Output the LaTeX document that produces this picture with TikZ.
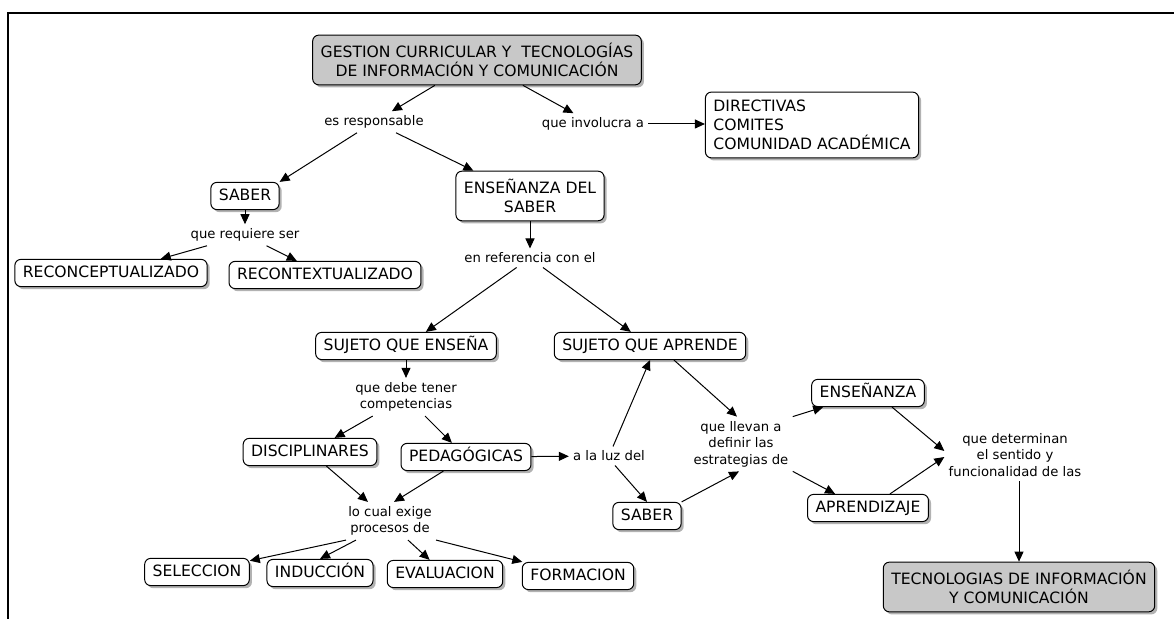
\documentclass[tikz,border=0pt]{standalone}
\usepackage{fontspec}
\setmainfont{DejaVu Sans}
\usetikzlibrary{arrows.meta}
\usetikzlibrary{shadows}
\usetikzlibrary{positioning}
\definecolor{mapgray}{RGB}{200,200,200}

\begin{document}
\begin{tikzpicture}[x=0.5pt,y=-0.5pt,
  box/.style={draw=black,line width=0.5pt,rounded corners=3pt,fill=white,
    drop shadow={shadow xshift=1.3pt,shadow yshift=-1.3pt,opacity=0.3,fill=black},
    inner xsep=4pt,font=\fontsize{7.8pt}{9.5pt}\selectfont},
  concept/.style={box,inner ysep=3pt,text height=6.2pt,text depth=1.4pt},
  multi/.style={box,inner ysep=4pt,align=center},
  link/.style={font=\fontsize{6.6pt}{8.3pt}\selectfont,align=center,inner sep=2pt},
  arr/.style={line width=0.5pt,-{Triangle[length=5pt,width=4.5pt]}}]
\useasboundingbox (0,0) rectangle (1174,619);
\draw[line width=1.2pt] (8,619) -- (8,13) -- (1174,13);

\node[multi,fill=mapgray] (gestion) at (477,60) {GESTION CURRICULAR Y \ TECNOLOGÍAS\\DE INFORMACIÓN Y COMUNICACIÓN};
\node[multi,align=left] (directivas) at (812,125) {DIRECTIVAS\\COMITES\\COMUNIDAD ACADÉMICA};
\node[concept] (saberA) at (245,196) {SABER};
\node[multi] (ensSaber) at (530,196) {ENSEÑANZA DEL\\SABER};
\node[concept] (reconc) at (111,273) {RECONCEPTUALIZADO};
\node[concept] (recont) at (325,275) {RECONTEXTUALIZADO};
\node[concept] (sujEns) at (406,346) {SUJETO QUE ENSEÑA};
\node[concept] (sujApr) at (650,346) {SUJETO QUE APRENDE};
\node[concept] (discip) at (310,452) {DISCIPLINARES};
\node[concept] (pedag) at (466,457) {PEDAGÓGICAS};
\node[concept] (saberB) at (647,516) {SABER};
\node[concept] (ensenanza) at (868,393) {ENSEÑANZA};
\node[concept] (aprendizaje) at (868,508) {APRENDIZAJE};
\node[multi,fill=mapgray] (tecnol) at (1019,587) {TECNOLOGIAS DE INFORMACIÓN\\Y COMUNICACIÓN};
\node[concept] (seleccion) at (197,572) {SELECCION};
\node[concept] (induccion) at (320,573) {INDUCCIÓN};
\node[concept] (evaluacion) at (445,574) {EVALUACION};
\node[concept] (formacion) at (578,576) {FORMACION};

\node[link] (lResp) at (374,122) {es responsable};
\node[link] (lInv) at (593,124) {que involucra a};
\node[link] (lReq) at (245,235) {que requiere ser};
\node[link] (lRef) at (530,258) {en referencia con el};
\node[link] (lDeb) at (406,397) {que debe tener\\competencias};
\node[link] (lLuz) at (609,456) {a la luz del};
\node[link] (lLlev) at (741,444) {que llevan a\\definir las\\estrategias de};
\node[link] (lDet) at (1015,455) {que determinan\\el sentido y\\funcionalidad de las};
\node[link] (lCual) at (390,521) {lo cual exige\\procesos de};

\draw[arr] (gestion) -- (lResp);
\draw[arr] (gestion) -- (lInv);
\draw[arr] (lInv.east) -- (lInv.east -| directivas.west);
\draw[arr] (lResp) -- (saberA.north east);
\draw[arr] (lResp) -- ([xshift=9pt]ensSaber.north west);
\draw[arr] (saberA) -- (lReq);
\draw[arr] (lReq) -- (reconc);
\draw[arr] (lReq) -- (recont);
\draw[arr] (ensSaber) -- (lRef);
\draw[arr] (lRef) -- (sujEns);
\draw[arr] (lRef) -- (sujApr);
\draw[arr] (sujEns) -- (lDeb);
\draw[arr] (lDeb) -- (discip);
\draw[arr] (lDeb) -- (pedag);
\draw[arr] (pedag) -- (lLuz);
\draw[arr] ([xshift=2pt]lLuz.north) -- (sujApr.south);
\draw[arr] ([xshift=3pt]lLuz.south) -- (saberB.north);
\draw[arr] (discip) -- ([xshift=-11pt]lCual.north);
\draw[arr] (pedag) -- ([xshift=2pt]lCual.north);
\draw[arr] ([xshift=-22pt]lCual.south) -- (seleccion);
\draw[arr] ([xshift=-17pt]lCual.south) -- (induccion.north);
\draw[arr] ([xshift=9pt]lCual.south) -- (evaluacion);
\draw[arr] (lCual.south east) -- (formacion);
\draw[arr] ([xshift=12pt]sujApr.south) -- ([xshift=-2pt]lLlev.north);
\draw[arr] (saberB.north east) -- ([xshift=-1pt]lLlev.south);
\draw[arr] (lLlev.north east) -- ([xshift=6pt]ensenanza.south west);
\draw[arr] (lLlev.south east) -- ([xshift=14pt]aprendizaje.north west);
\draw[arr] ([xshift=12pt]ensenanza.south) -- ([yshift=2pt]lDet.west);
\draw[arr] ([xshift=11pt]aprendizaje.north) -- ([yshift=-1pt]lDet.west);
\draw[arr] (lDet.south -| tecnol.north) -- (tecnol.north);

\end{tikzpicture}
\end{document}
